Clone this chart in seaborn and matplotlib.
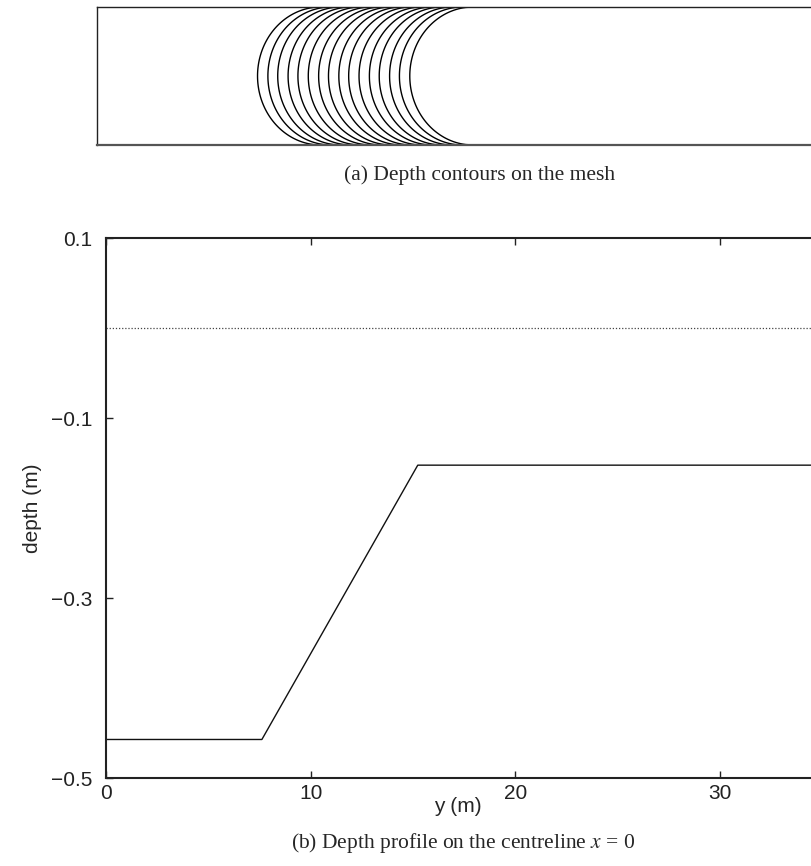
import numpy as np
import pandas as pd
import matplotlib
matplotlib.use('Agg')
import matplotlib.pyplot as plt
import seaborn as sns

# centreline depth profile, panel (b)
y_prof = [0.0, 7.62, 15.24, 35.0]
depth_prof = [-0.4572, -0.4572, -0.1524, -0.1524]
still_water = 0.0

# half width of the channel (m), panel (a)
half_width = 3.048

# depth contour levels drawn on the mesh
contour_levels = [-0.452, -0.432, -0.413, -0.393, -0.374, -0.354, -0.334, -0.315,
                  -0.295, -0.276, -0.256, -0.236, -0.217, -0.197, -0.178, -0.158]

y_ticks = [0, 10, 20, 30]
depth_ticks = [0.1, -0.1, -0.3, -0.5]
depth_ticklabels = ['0.1', '\u22120.1', '\u22120.3', '\u22120.5']

sns.set_style('ticks')
plt.rcParams['font.family'] = ['Liberation Sans', 'DejaVu Sans']
plt.rcParams['mathtext.fontset'] = 'stix'

W, H = 812, 866
fig = plt.figure(figsize=(W / 100, H / 100), dpi=100)


def px_axes(left, top, right, bottom):
    return fig.add_axes([left / W, 1 - bottom / H, (right - left) / W, (bottom - top) / H])


# ---------------- (a) depth contours on the mesh
ax_a = px_axes(97, 7, 822, 145)
s = np.linspace(0, 35, 1400)
w = np.linspace(-half_width, half_width, 301)
S, Wc = np.meshgrid(s, w)
G = np.sqrt(np.clip(half_width ** 2 - Wc ** 2, 0, None))
depth = np.interp(S + G - half_width, y_prof, depth_prof)
ax_a.contour(S, Wc, depth, levels=contour_levels, colors='black', linewidths=1.0,
             negative_linestyles='solid')
ax_a.set_xlim(0, 35)
ax_a.set_ylim(-half_width, half_width)
ax_a.set_xticks([])
ax_a.set_yticks([])
for sp in ax_a.spines.values():
    sp.set_linewidth(1.0)
    sp.set_color('#222222')
ax_a.spines['bottom'].set_linewidth(1.6)
ax_a.spines['bottom'].set_color('#555555')

fig.text(480 / W, 1 - 175 / H, '(a) Depth contours on the mesh', ha='center', va='center',
         fontsize=15.5, family='Liberation Serif')

# ---------------- (b) depth profile on the centreline
ax_b = px_axes(106, 238, 822, 778)
prof = pd.DataFrame({'y': y_prof, 'depth': depth_prof})
sns.lineplot(data=prof, x='y', y='depth', ax=ax_b, color='#111111', linewidth=1.0)
ax_b.axhline(still_water, color='#444444', linewidth=0.9, linestyle=(0, (1, 1.5)))
ax_b.set_xlim(0, 35)
ax_b.set_ylim(-0.5, 0.1)
ax_b.set_xticks(y_ticks)
ax_b.set_yticks(depth_ticks)
ax_b.set_yticklabels(depth_ticklabels)
ax_b.tick_params(direction='in', length=5, width=1, top=True, right=True,
                 labelsize=15, colors='#222222')
ax_b.tick_params(axis='x', pad=4)
ax_b.tick_params(axis='y', pad=10)
ax_b.set_xlabel('')
ax_b.set_ylabel('')
for sp in ax_b.spines.values():
    sp.set_linewidth(1.5)
    sp.set_color('#222222')

fig.text(33 / W, 1 - 508 / H, 'depth (m)', rotation=90, ha='center', va='center', fontsize=15)
fig.text(458 / W, 1 - 806 / H, 'y (m)', ha='center', va='center', fontsize=15)
fig.text(463 / W, 1 - 843 / H, '(b) Depth profile on the centreline $x$ = 0', ha='center',
         va='center', fontsize=15.5, family='Liberation Serif')

fig.savefig('out.png', dpi=100)
